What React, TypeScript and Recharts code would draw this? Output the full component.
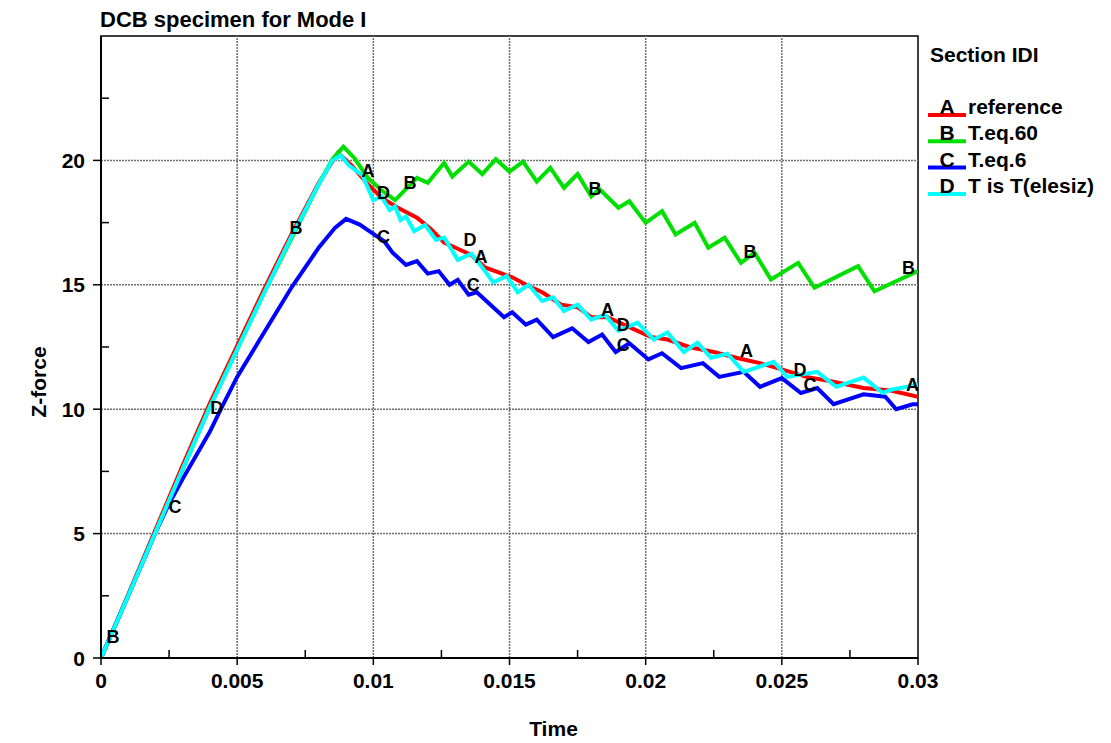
import React from "react";
import {
  ComposedChart,
  Line,
  Scatter,
  XAxis,
  YAxis,
  ReferenceLine,
  ReferenceArea,
} from "recharts";

const FONT = "'Liberation Sans', Arial, Helvetica, sans-serif";

// A - reference
const refTime = [0, 0.001, 0.002, 0.003, 0.004, 0.005, 0.006, 0.007, 0.008, 0.0087, 0.0092, 0.0098, 0.0103, 0.0109, 0.0116, 0.0121, 0.0126, 0.0131, 0.0136, 0.0141, 0.0146, 0.0151, 0.0157, 0.0162, 0.0169, 0.0175, 0.018, 0.0186, 0.0194, 0.0202, 0.0208, 0.0216, 0.0225, 0.0234, 0.0242, 0.025, 0.0259, 0.0269, 0.028, 0.029, 0.03];
const refForce = [0, 2.55, 5.15, 7.75, 10.25, 12.55, 14.85, 17.05, 19.1, 20.3, 19.8, 19.05, 18.5, 18.1, 17.7, 17.25, 16.7, 16.45, 16.2, 15.7, 15.5, 15.3, 14.95, 14.7, 14.2, 14.1, 13.7, 13.7, 13.3, 12.9, 12.8, 12.5, 12.3, 12.05, 11.85, 11.6, 11.3, 11.1, 10.85, 10.75, 10.5];

// B - T.eq.60
const eq60Time = [0, 0.002, 0.004, 0.006, 0.008, 0.0085, 0.0089, 0.0093, 0.0098, 0.0103, 0.0108, 0.0116, 0.012, 0.0126, 0.0129, 0.0135, 0.014, 0.0145, 0.015, 0.0155, 0.016, 0.0165, 0.017, 0.0175, 0.018, 0.0183, 0.019, 0.0194, 0.02, 0.0206, 0.0211, 0.0218, 0.0223, 0.0229, 0.0235, 0.024, 0.0246, 0.0256, 0.0262, 0.0278, 0.0284, 0.03];
const eq60Force = [0, 5.05, 10.1, 14.7, 19.05, 20.05, 20.55, 20.1, 19.3, 18.8, 18.4, 19.3, 19.1, 19.9, 19.35, 19.95, 19.45, 20.05, 19.55, 19.95, 19.15, 19.7, 18.9, 19.45, 18.55, 18.85, 18.1, 18.36, 17.49, 17.96, 17.02, 17.49, 16.49, 16.89, 15.88, 16.29, 15.21, 15.88, 14.88, 15.75, 14.74, 15.55];

// C - T.eq.6
const eq6Time = [0, 0.001, 0.002, 0.0025, 0.003, 0.004, 0.0044, 0.005, 0.006, 0.007, 0.008, 0.0086, 0.009, 0.0095, 0.01, 0.0104, 0.0107, 0.0112, 0.0116, 0.012, 0.0124, 0.0128, 0.0131, 0.0135, 0.0138, 0.0144, 0.0148, 0.0151, 0.0156, 0.016, 0.0166, 0.0173, 0.0179, 0.0184, 0.0189, 0.0194, 0.0201, 0.0206, 0.0213, 0.0221, 0.0227, 0.0236, 0.0242, 0.025, 0.0257, 0.0263, 0.0269, 0.028, 0.0288, 0.0292, 0.0298, 0.03];
const eq6Force = [0, 2.5, 5.05, 6.2, 7.2, 9.1, 10.0, 11.3, 13.1, 14.9, 16.5, 17.3, 17.65, 17.42, 17.05, 16.75, 16.3, 15.8, 15.95, 15.45, 15.55, 15.0, 15.2, 14.6, 14.7, 14.1, 13.7, 13.9, 13.4, 13.6, 12.9, 13.25, 12.7, 13.0, 12.3, 12.65, 12.0, 12.25, 11.65, 11.85, 11.3, 11.5, 10.9, 11.25, 10.65, 10.85, 10.2, 10.6, 10.5, 10.0, 10.2, 10.2];

// D - T is T(elesiz)
const elesizTime = [0, 0.001, 0.002, 0.003, 0.004, 0.005, 0.006, 0.007, 0.008, 0.0085, 0.0088, 0.0091, 0.0096, 0.01, 0.0103, 0.0106, 0.0108, 0.011, 0.0112, 0.0115, 0.0119, 0.0123, 0.0126, 0.0131, 0.0136, 0.014, 0.0144, 0.0149, 0.0153, 0.0157, 0.0162, 0.0166, 0.017, 0.0175, 0.018, 0.0185, 0.019, 0.0197, 0.0203, 0.0208, 0.0214, 0.0219, 0.0224, 0.023, 0.0236, 0.0247, 0.0252, 0.0263, 0.027, 0.028, 0.0287, 0.029, 0.03];
const elesizForce = [0, 2.5, 5.05, 7.6, 10.1, 12.4, 14.7, 16.95, 19.05, 20.0, 20.2, 19.8, 19.4, 18.4, 18.55, 18.0, 18.15, 17.6, 17.75, 17.15, 17.4, 16.8, 16.9, 16.0, 16.25, 15.7, 15.1, 15.35, 14.7, 15.0, 14.35, 14.5, 13.95, 14.2, 13.6, 13.8, 13.15, 13.48, 12.8, 13.08, 12.3, 12.67, 12.07, 12.23, 11.5, 11.9, 11.3, 11.5, 10.9, 11.27, 10.66, 10.78, 10.98];

// curve letter markers
const markATime = [0.0098, 0.01395, 0.0186, 0.0237, 0.0298];
const markAForce = [19.6, 16.15, 14.0, 12.35, 11.0];
const markBTime = [0.00044, 0.00716, 0.01135, 0.01814, 0.02383, 0.02965];
const markBForce = [0.85, 17.3, 19.1, 18.85, 16.35, 15.7];
const markCTime = [0.00272, 0.01037, 0.01367, 0.01918, 0.02603];
const markCForce = [6.1, 16.95, 15.0, 12.6, 11.0];
const markDTime = [0.00425, 0.01037, 0.01355, 0.01918, 0.02567];
const markDForce = [10.05, 18.7, 16.8, 13.4, 11.6];

const seriesLetters = ["A", "B", "C", "D"];
const seriesNames = ["reference", "T.eq.60", "T.eq.6", "T is T(elesiz)"];
const seriesColors = ["#ff0000", "#00e000", "#0000ff", "#00ffff"];

const xTicks = [0, 0.0025, 0.005, 0.0075, 0.01, 0.0125, 0.015, 0.0175, 0.02, 0.0225, 0.025, 0.0275, 0.03];
const xMajor = [0, 0.005, 0.01, 0.015, 0.02, 0.025, 0.03];
const xTickLabels = ["0", "0.005", "0.01", "0.015", "0.02", "0.025", "0.03"];
const yTicks = [0, 2.5, 5, 7.5, 10, 12.5, 15, 17.5, 20, 22.5];
const yMajor = [0, 5, 10, 15, 20];
const yTickLabels = ["0", "5", "10", "15", "20"];

const toRows = (t: number[], f: number[]) => t.map((v, i) => ({ t: v, f: f[i] }));

const seriesData = [
  toRows(refTime, refForce),
  toRows(eq60Time, eq60Force),
  toRows(eq6Time, eq6Force),
  toRows(elesizTime, elesizForce),
];
const markData = [
  toRows(markATime, markAForce),
  toRows(markBTime, markBForce),
  toRows(markCTime, markCForce),
  toRows(markDTime, markDForce),
];

const TICK = 7;
const GAP = 8;
const textStyle = { fontFamily: FONT, fontSize: 21, fontWeight: 700, fill: "#000" };

const XTick = (props: any) => {
  const { x, y, payload } = props;
  const axisY = y - TICK - GAP;
  const idx = xMajor.findIndex((m) => Math.abs(m - payload.value) < 1e-9);
  if (idx < 0) {
    return <line x1={x} x2={x} y1={axisY} y2={axisY - 8} stroke="#000" strokeWidth={1.5} />;
  }
  return (
    <g>
      <line x1={x} x2={x} y1={axisY} y2={axisY + TICK} stroke="#000" strokeWidth={1.5} />
      <text x={x} y={y} dy="0.72em" textAnchor="middle" style={textStyle}>
        {xTickLabels[idx]}
      </text>
    </g>
  );
};

const YTick = (props: any) => {
  const { x, y, payload } = props;
  const axisX = x + TICK + 1 + GAP;
  const idx = yMajor.findIndex((m) => Math.abs(m - payload.value) < 1e-9);
  if (idx < 0) {
    return <line x1={axisX} x2={axisX + 8} y1={y} y2={y} stroke="#000" strokeWidth={1.5} />;
  }
  return (
    <g>
      <line x1={axisX - TICK - 1} x2={axisX} y1={y} y2={y} stroke="#000" strokeWidth={1.5} />
      <text x={x} y={y} dy="0.36em" textAnchor="end" style={textStyle}>
        {yTickLabels[idx]}
      </text>
    </g>
  );
};

const letterShape = (letter: string) => (p: any) => (
  <text
    x={p.cx}
    y={p.cy}
    dy="0.36em"
    textAnchor="middle"
    style={{ fontFamily: FONT, fontSize: 18, fontWeight: 700, fill: "#000" }}
  >
    {letter}
  </text>
);

export default function App() {
  return (
    <div
      style={{
        position: "absolute",
        left: 0,
        top: 0,
        width: 1111,
        height: 743,
        overflow: "hidden",
        background: "#fff",
      }}
    >
      <ComposedChart
        width={1111}
        height={743}
        margin={{ top: 36, right: 193, bottom: 0, left: 0 }}
      >
        <XAxis
          type="number"
          dataKey="t"
          domain={[0, 0.03]}
          ticks={xTicks}
          interval={0}
          allowDataOverflow
          height={85}
          tickSize={TICK}
          tickMargin={GAP}
          tickLine={false}
          axisLine={{ stroke: "#000", strokeWidth: 2 }}
          tick={XTick}
          label={{
            content: ({ viewBox }: any) => (
              <text x={viewBox.x + viewBox.width / 2 + 44} y={736} textAnchor="middle" style={textStyle}>
                Time
              </text>
            ),
          }}
        />
        <YAxis
          type="number"
          dataKey="f"
          domain={[0, 25]}
          ticks={yTicks}
          interval={0}
          allowDataOverflow
          width={101}
          tickSize={TICK + 1}
          tickMargin={GAP}
          tickLine={false}
          axisLine={{ stroke: "#000", strokeWidth: 2 }}
          tick={YTick}
          label={{
            content: ({ viewBox }: any) => {
              const cx = 38;
              const cy = viewBox.y + viewBox.height / 2 + 35;
              return (
                <text
                  x={cx}
                  y={cy}
                  textAnchor="middle"
                  dominantBaseline="central"
                  transform={`rotate(-90 ${cx} ${cy})`}
                  style={textStyle}
                >
                  Z-force
                </text>
              );
            },
          }}
        />
        {xMajor.slice(1, -1).map((v) => (
          <ReferenceLine key={`gx${v}`} x={v} stroke="#6e6e6e" strokeWidth={1.5} strokeDasharray="2 1" />
        ))}
        {yMajor.slice(1).map((v) => (
          <ReferenceLine key={`gy${v}`} y={v} stroke="#6e6e6e" strokeWidth={1.5} strokeDasharray="2 1" />
        ))}
        {seriesData.map((rows, i) => (
          <Line
            key={seriesNames[i]}
            data={rows}
            dataKey="f"
            type="linear"
            stroke={seriesColors[i]}
            strokeWidth={4}
            dot={false}
            activeDot={false}
            isAnimationActive={false}
          />
        ))}
        {markData.map((rows, i) => (
          <Scatter
            key={`mark${seriesLetters[i]}`}
            data={rows}
            dataKey="f"
            shape={letterShape(seriesLetters[i])}
            isAnimationActive={false}
          />
        ))}
        <ReferenceArea x1={0} x2={0.03} y1={0} y2={25} fill="none" fillOpacity={0} stroke="#000" strokeWidth={1.5} />
      </ComposedChart>

      <svg
        width={1111}
        height={743}
        style={{ position: "absolute", left: 0, top: 0, pointerEvents: "none" }}
      >
        <text x={100} y={27} style={{ ...textStyle, fontSize: 22 }}>
          DCB specimen for Mode I
        </text>
        <text x={930} y={62} style={textStyle}>
          Section IDI
        </text>
        {seriesNames.map((name, i) => {
          const ly = 115 + i * 26.3;
          return (
            <g key={name}>
              <line x1={928} x2={966} y1={ly} y2={ly} stroke={seriesColors[i]} strokeWidth={4} />
              <text x={947} y={ly - 1} textAnchor="middle" style={textStyle}>
                {seriesLetters[i]}
              </text>
              <text x={968} y={ly - 1} style={textStyle}>
                {name}
              </text>
            </g>
          );
        })}
      </svg>
    </div>
  );
}
